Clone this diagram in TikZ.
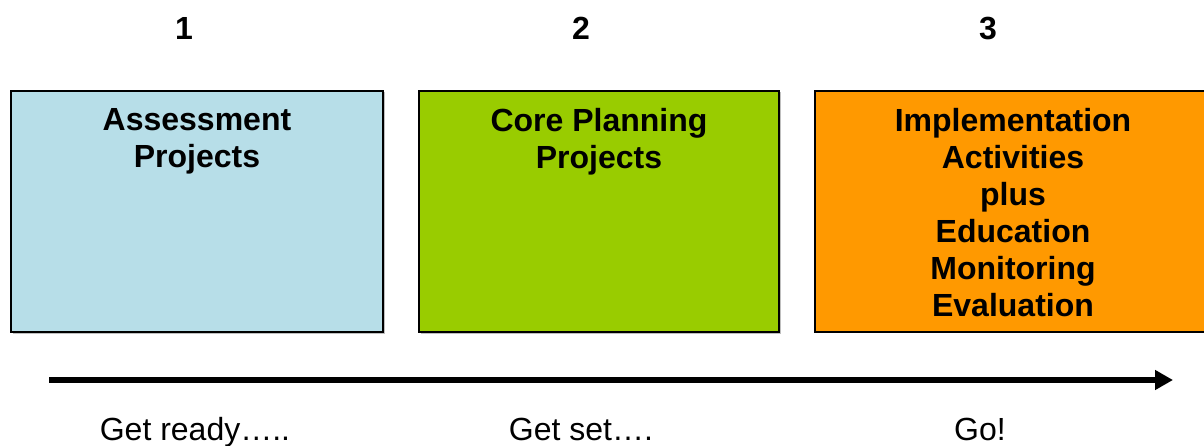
\documentclass[tikz,border=0pt]{standalone}
\usepackage{fontspec}
\setmainfont{Liberation Sans}
\usetikzlibrary{arrows.meta}
\definecolor{boxblue}{HTML}{B7DEE8}
\definecolor{boxgreen}{HTML}{99CC00}
\definecolor{boxorange}{HTML}{FF9900}
\tikzset{
  phase/.style={draw=black, line width=2pt, inner sep=0pt, minimum height=241pt},
  shade/.style={fill=black!25, draw=none, inner sep=0pt, minimum height=241pt},
  boxtext/.style={anchor=north, align=center, inner sep=0pt, font=\fontsize{32}{37}\selectfont\bfseries},
  numlabel/.style={anchor=base, inner sep=0pt, font=\fontsize{32}{37}\selectfont\bfseries},
  steplabel/.style={anchor=base, inner sep=0pt, font=\fontsize{32}{37}\selectfont},
  timeline/.style={line width=6.5pt, -{Triangle[length=18pt,width=19pt]}}
}
\begin{document}
\begin{tikzpicture}[x=1pt,y=-1pt]
\useasboundingbox (0,0) rectangle (1204,446);
% shadows
\node[shade, minimum width=372pt] (s1) at (198.5,213) {};
\node[shade, minimum width=360pt] (s2) at (600.5,213) {};
% boxes
\node[phase, fill=boxblue, minimum width=372pt] (b1) at (197,211.5) {};
\node[phase, fill=boxgreen, minimum width=360pt] (b2) at (599,211.5) {};
\node[phase, fill=boxorange, minimum width=390pt] (b3) at (1010,211.5) {};
% box texts
\node[boxtext] (t1) at (197,108) {Assessment\\Projects};
\node[boxtext] (t2) at (599,108) {Core Planning\\Projects};
\node[boxtext] (t3) at (1013,108) {Implementation\\Activities\\plus\\Education\\Monitoring\\Evaluation};
% numbers
\node[numlabel] (n1) at (184,40) {1};
\node[numlabel] (n2) at (581,40) {2};
\node[numlabel] (n3) at (988,40) {3};
% timeline
\coordinate (a0) at (49,380);
\coordinate (a1) at (1173,380);
\draw[timeline] (a0) -- (a1);
% step labels
\node[steplabel] (g1) at (195,440) {Get ready…..};
\node[steplabel] (g2) at (581,440) {Get set….};
\node[steplabel] (g3) at (980,440) {Go!};
\end{tikzpicture}
\end{document}
